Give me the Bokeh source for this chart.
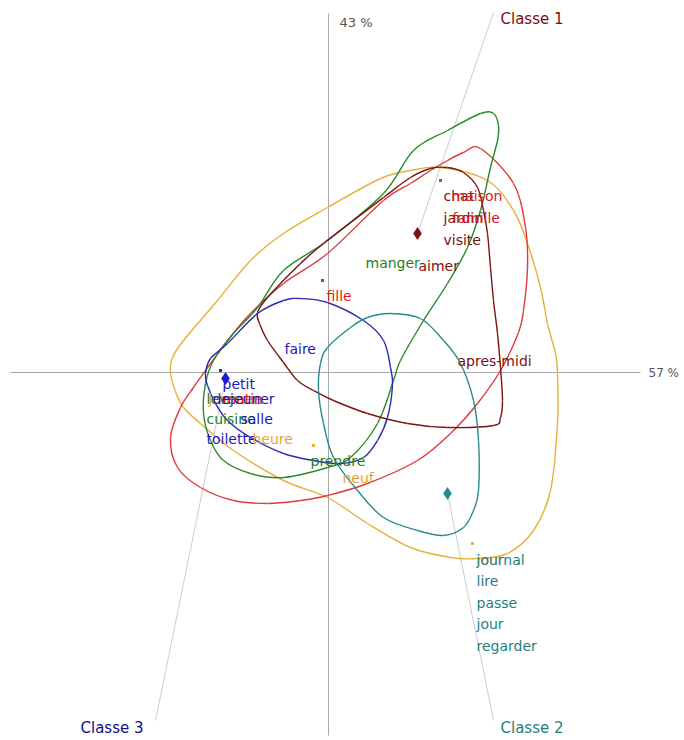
from bokeh.plotting import figure
from bokeh.embed import file_html
from bokeh.resources import INLINE
from bokeh.core.properties import value

# ---------------- data (factor coordinates) ----------------
# closed contours of each class, listed as points around the curve
orange_x = [1.12, 1.59, 1.85, 1.99, 2.12, 2.19, 2.27, 2.29, 2.29, 2.22, 2.05, 1.79, 1.49, 1.22, 0.82, 0.39, -0.01, -0.45, -0.95, -1.28, -1.45, -1.53, -1.58, -1.56, -1.45, -1.11, -0.78, -0.45, -0.01, 0.52, 0.82]
orange_y = [2.05, 1.92, 1.62, 1.29, 0.85, 0.49, 0.19, -0.01, -0.51, -1.18, -1.58, -1.81, -1.86, -1.85, -1.75, -1.51, -1.25, -1.08, -0.78, -0.51, -0.35, -0.19, 0.0, 0.15, 0.32, 0.72, 1.12, 1.39, 1.65, 1.94, 2.02]

red_x = [1.52, 1.85, 1.97, 1.99, 1.95, 1.90, 1.72, 1.49, 1.22, 0.89, 0.39, -0.01, -0.28, -0.61, -0.95, -1.28, -1.51, -1.58, -1.48, -1.35, -1.28, -1.01, -0.78, -0.45, -0.01, 0.55, 0.82, 1.02, 1.19, 1.35]
red_y = [2.24, 1.89, 1.45, 1.05, 0.62, 0.40, 0.02, -0.31, -0.61, -0.88, -1.11, -1.23, -1.28, -1.31, -1.28, -1.15, -0.95, -0.65, -0.35, -0.15, -0.05, 0.32, 0.59, 0.89, 1.19, 1.72, 1.89, 2.02, 2.12, 2.20]

green_x = [1.65, 1.70, 1.69, 1.62, 1.52, 1.39, 1.19, 0.95, 0.72, 0.65, 0.49, 0.22, -0.01, -0.45, -0.78, -1.05, -1.18, -1.25, -1.23, -1.15, -0.95, -0.71, -0.45, -0.01, 0.55, 0.85, 1.19, 1.52]
green_y = [2.59, 2.47, 2.32, 2.05, 1.62, 1.25, 0.89, 0.52, 0.12, -0.08, -0.51, -0.85, -0.95, -1.05, -1.01, -0.88, -0.68, -0.41, -0.11, 0.12, 0.39, 0.65, 1.02, 1.32, 1.79, 2.22, 2.42, 2.59]

maroon_x = [1.19, 1.35, 1.49, 1.55, 1.59, 1.62, 1.65, 1.69, 1.72, 1.74, 1.72, 1.65, 1.19, 0.79, 0.39, 0.05, -0.15, -0.31, -0.45, -0.61, -0.69, -0.71, -0.61, -0.28, -0.05, 0.55, 0.82, 1.02]
maroon_y = [2.05, 2.00, 1.85, 1.62, 1.39, 1.05, 0.72, 0.39, 0.05, -0.28, -0.45, -0.53, -0.55, -0.51, -0.41, -0.28, -0.18, -0.08, 0.10, 0.32, 0.49, 0.60, 0.75, 1.09, 1.29, 1.75, 1.95, 2.04]

blue_x = [-0.28, -0.01, 0.35, 0.55, 0.62, 0.64, 0.59, 0.49, 0.35, 0.12, -0.15, -0.45, -0.78, -1.01, -1.13, -1.21, -1.23, -1.18, -1.01, -0.71, -0.45]
blue_y = [0.74, 0.70, 0.52, 0.32, 0.05, -0.13, -0.45, -0.68, -0.85, -0.91, -0.88, -0.81, -0.65, -0.48, -0.31, -0.13, -0.01, 0.14, 0.29, 0.59, 0.72]

teal_x = [0.62, 0.92, 1.15, 1.32, 1.45, 1.50, 1.50, 1.45, 1.35, 1.15, 0.89, 0.55, 0.29, 0.05, -0.05, -0.10, -0.08, -0.01, 0.22, 0.39]
teal_y = [0.59, 0.54, 0.32, 0.09, -0.28, -0.68, -1.18, -1.38, -1.55, -1.63, -1.58, -1.45, -1.18, -0.85, -0.51, -0.18, 0.09, 0.25, 0.45, 0.55]

# class centroids
class_names = ["Classe 1", "Classe 2", "Classe 3"]
class_x = [0.89, 1.19, -1.03]
class_y = [1.39, -1.21, -0.06]

# words
word_text = ["chat", "maison", "jardin", "famille", "visite", "aimer", "manger", "fille",
             "faire", "apres-midi", "petit", "lever", "journee", "matin", "dejeuner",
             "cuisine", "salle", "toilette", "heure", "prendre", "neuf",
             "jour", "journal", "lire", "passe", "jour", "regarder"]
word_x = [1.15, 1.23, 1.15, 1.24, 1.15, 0.90, 0.37, -0.02,
          -0.44, 1.29, -1.06, -1.22, -1.20, -1.06, -1.16,
          -1.22, -0.88, -1.22, -0.76, -0.18, 0.14,
          1.48, 1.48, 1.48, 1.48, 1.48, 1.48]
word_y = [1.77, 1.77, 1.55, 1.55, 1.33, 1.07, 1.10, 0.77,
          0.24, 0.12, -0.11, -0.26, -0.26, -0.26, -0.26,
          -0.46, -0.46, -0.66, -0.66, -0.88, -1.05,
          -1.87, -1.87, -2.08, -2.30, -2.51, -2.73]
word_group = ["maroon", "red", "maroon", "red", "maroon", "maroon", "green", "red",
              "blue", "maroon", "blue", "green", "orange", "red", "blue",
              "green", "blue", "blue", "orange", "green", "orange",
              "orange", "teal", "teal", "teal", "teal", "teal"]

# small dots
dot_x = [1.12, -0.06, -1.08, -0.15, 1.44]
dot_y = [1.92, 0.92, 0.02, -0.73, -1.71]
dot_group = ["red", "green", "blue", "orange", "orange"]

axis_labels = ["43 %", "57 %"]

# ---------------- styles ----------------
line_col = {"orange": "#e8b03c", "red": "#dd3a3a", "green": "#2a8a2a",
            "maroon": "#7a1414", "blue": "#2a2ab4", "teal": "#2a8a8a"}
text_col = {"orange": "#e0a53a", "red": "#dd1a1a", "green": "#1f7f1f",
            "maroon": "#7a1010", "blue": "#1a1ab8", "teal": "#1f7f7f"}
class_col = ["#7a1010", "#1f7f7f", "#10108a"]

p = figure(width=684, height=740, x_range=(-3.28, 3.56), y_range=(-3.68, 3.72),
           output_backend="svg", toolbar_location=None, min_border=0)
p.axis.visible = False
p.grid.visible = False
p.outline_line_color = None
p.background_fill_color = "white"

# axes
p.line([-3.18, 3.12], [0, 0], line_color="#a8a8a8", line_width=1)
p.line([0, 0], [3.59, -3.63], line_color="#a8a8a8", line_width=1)
p.text(x=[0.11], y=[3.50], text=[axis_labels[0]], text_color="#555555", text_font=value("DejaVu Sans"),
       text_font_size="13px", text_baseline="middle", text_align="left")
p.text(x=[3.20], y=[0.0], text=[axis_labels[1]], text_color="#555555", text_font=value("DejaVu Sans"),
       text_font_size="12px", text_baseline="middle", text_align="left")

# leader lines to class labels
lab_x = [1.72, 1.72, -2.48]
lab_y = [3.54, -3.55, -3.55]
lead_x = [1.65, 1.65, -1.73]
lead_y = [3.60, -3.48, -3.48]
p.segment(x0=lead_x, y0=lead_y, x1=class_x, y1=class_y, line_color="#cccccc", line_width=1)


def closed_bezier(xs, ys, color):
    n = len(xs)
    x0, y0, x1, y1, cx0, cy0, cx1, cy1 = [], [], [], [], [], [], [], []
    for i in range(n):
        a, b, c, d = (i - 1) % n, i, (i + 1) % n, (i + 2) % n
        x0.append(xs[b]); y0.append(ys[b])
        x1.append(xs[c]); y1.append(ys[c])
        cx0.append(xs[b] + (xs[c] - xs[a]) / 6.0)
        cy0.append(ys[b] + (ys[c] - ys[a]) / 6.0)
        cx1.append(xs[c] - (xs[d] - xs[b]) / 6.0)
        cy1.append(ys[c] - (ys[d] - ys[b]) / 6.0)
    p.bezier(x0=x0, y0=y0, x1=x1, y1=y1, cx0=cx0, cy0=cy0, cx1=cx1, cy1=cy1,
             line_color=color, line_width=1.4)


closed_bezier(orange_x, orange_y, line_col["orange"])
closed_bezier(red_x, red_y, line_col["red"])
closed_bezier(green_x, green_y, line_col["green"])
closed_bezier(maroon_x, maroon_y, line_col["maroon"])
closed_bezier(blue_x, blue_y, line_col["blue"])
closed_bezier(teal_x, teal_y, line_col["teal"])

# dots
p.scatter(dot_x, dot_y, marker="square", size=3, line_color=None,
          fill_color=[line_col[g] for g in dot_group])

# centroids
p.scatter(class_x, class_y, marker="diamond", size=13, line_color=None,
          fill_color=[line_col["maroon"], line_col["teal"], "#1a1ad0"])

# words
p.text(x=word_x, y=word_y, text=word_text, text_color=[text_col[g] for g in word_group],
       text_font=value("DejaVu Sans"), text_font_size="14px",
       text_baseline="middle", text_align="left")

# class labels
p.text(x=lab_x, y=lab_y, text=class_names, text_color=class_col,
       text_font=value("DejaVu Sans"), text_font_size="15px",
       text_baseline="middle", text_align="left")

open("out.html", "w").write(file_html(p, INLINE))
